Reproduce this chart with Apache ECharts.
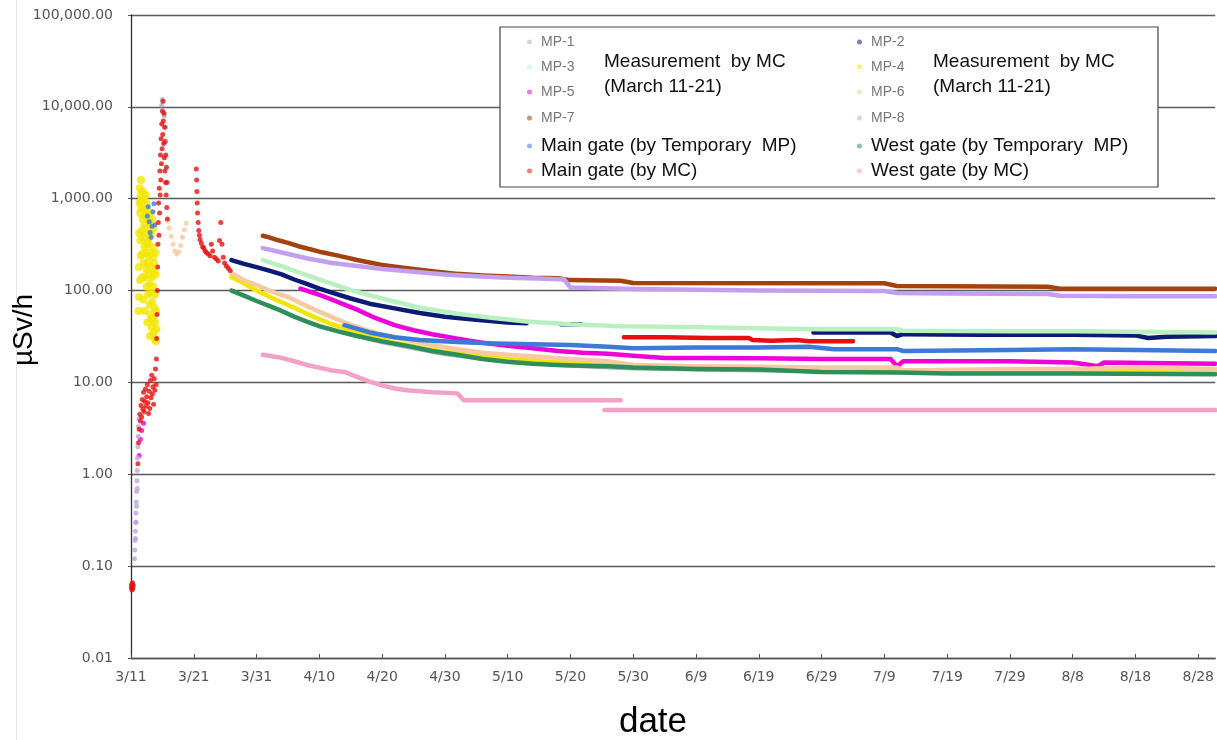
<!DOCTYPE html>
<html><head><meta charset="utf-8">
<script src="https://cdn.jsdelivr.net/npm/echarts@6/dist/echarts.min.js"></script>
<style>html,body{margin:0;padding:0;background:#fff}#c{width:1217px;height:740px}</style>
</head><body><div id="c"></div>
<script>
// x values are days after 3/11 (2011); y values in µSv/h
const seriesNames = ['MP-1','MP-2','MP-3','MP-4','MP-5','MP-6','MP-7','MP-8',
  'Main gate (by Temporary  MP)','West gate (by Temporary  MP)','Main gate (by MC)','West gate (by MC)'];
const seriesColors = ['#a9b2c0','#0b1a73','#b9f0c0','#f2e600','#f000d8','#f6c9a0','#a3420f','#c3a0ee',
  '#3d7ad6','#2f8f5a','#e41010','#f4a0c8'];

// ---- early measurements by MC (March 11-21) ----
const mp1Early = [[0.7,0.2],[0.8,0.3],[0.9,0.45],[1.0,0.7],[4.9,10500],[5.0,12000],[5.3,8000],[5.5,6000]];
const mp4Early = [[1.2,60],[1.25,180],[1.3,420],[1.35,900],[1.4,1300],[1.45,700],[1.5,350],[1.55,1100],[1.6,1600],[1.65,800],
  [1.7,450],[1.75,250],[1.8,950],[1.85,600],[1.9,1200],[1.95,380],[2.0,200],[2.05,750],[2.1,520],[2.15,300],[2.2,140],
  [2.25,650],[2.3,420],[2.35,260],[2.4,900],[2.45,170],[2.5,110],[2.55,480],[2.6,320],[2.65,200],[2.7,90],[2.75,600],
  [2.8,240],[2.85,150],[2.9,380],[2.95,70],[3.0,120],[3.05,260],[3.1,55],[3.15,180],[3.2,95],[3.25,420],[3.3,40],
  [3.35,140],[3.4,75],[3.45,300],[3.5,50],[3.55,110],[3.6,35],[3.65,200],[3.7,65],[3.75,30],[3.8,90],[3.85,45],
  [3.9,150],[3.95,28],[4.0,60],[4.05,38],
  [1.3,85],[1.45,130],[1.55,240],[1.7,1000],[1.8,140],[1.95,80],[2.1,1000],[2.2,60],[2.35,1100],[2.5,760],
  [2.6,45],[2.7,340],[2.85,560],[3.0,32],[3.1,700],[3.2,48],[3.35,600],[3.5,230],[3.6,480],[3.75,160],[3.9,260]];
const mp5Early = [[1.3,1.6],[1.5,2.4],[1.7,3.0],[2.0,3.6]];
const mp6Early = [[5.8,580],[6.1,480],[6.4,390],[6.7,320],[7.0,270],[7.3,250],[7.6,265],[7.9,310],[8.2,380],[8.5,460],[8.8,540]];
const mp8Early = [[0.55,0.12],[0.6,0.15],[0.65,0.19],[0.7,0.24],[0.75,0.3],[0.8,0.38],[0.85,0.5],[0.9,0.65],[0.95,0.85],
  [1.0,1.1],[1.05,1.5],[1.1,2.0],[1.15,2.6],[1.2,3.3],[1.25,4.0]];
const mainTmpEarly = [[2.6,650],[2.75,820],[2.9,560],[3.05,430],[3.2,380],[3.35,500],[3.5,720],[3.65,880],[3.8,520]];
const mainMcEarly = [[0.05,0.058],[0.1,0.063],[0.15,0.055],[0.2,0.06],[0.25,0.066],[0.3,0.057],[0.35,0.062],
  [1.1,1.3],[1.2,2.2],[1.3,3.1],[1.4,4.5],[1.5,3.8],[1.6,5.6],[1.7,4.2],[1.8,6.5],[1.9,5.1],[2.0,7.8],[2.1,4.8],
  [2.2,6.2],[2.3,8.5],[2.4,5.5],[2.5,7.0],[2.6,9.5],[2.7,6.0],[2.8,4.6],[2.9,8.0],[3.0,5.2],[3.1,10.5],[3.2,6.8],
  [3.3,12],[3.4,7.5],[3.5,9.0],[3.6,5.8],[3.7,11],[3.8,8.2],[3.9,14],[4.0,9.5],[4.05,18],[4.1,30],[4.15,55],[4.2,100],
  [4.25,180],[4.3,320],[4.35,550],[4.4,900],[4.45,400],[4.5,1300],[4.55,700],[4.6,2000],[4.65,1100],[4.7,3000],
  [4.75,1600],[4.8,4500],[4.85,2400],[4.9,6500],[4.95,3500],[5.0,9000],[5.05,5000],[5.1,11500],[5.15,7000],[5.2,4000],
  [5.25,8500],[5.3,2800],[5.35,6000],[5.4,2000],[5.45,4200],[5.5,1500],[5.55,3000],[5.6,1100],[5.65,2200],[5.7,800],
  [5.75,1500],[5.8,600],
  [10.4,2100],[10.45,1600],[10.5,1200],[10.55,900],[10.6,700],[10.7,550],[10.8,450],[10.9,400],[11.0,360],[11.2,330],
  [11.4,300],[11.6,290],[11.8,270],[12.0,260],[12.3,250],[12.6,240],[12.8,320],[13.0,270],[13.3,230],[13.6,220],
  [13.9,210],[14.1,350],[14.3,550],[14.5,320],[14.7,230],[14.9,200],[15.2,185],[15.5,175],[15.8,165]];

// ---- continuous monitoring (lines) ----
const mp1Line = [[30,40],[40,27],[50,20],[60,16.5],[70,15],[80,14],[100,13.3],[122,13],[172.7,12.8]];
const mp2Line = [[16,215],[18,195],[20,180],[22,165],[24,150],[26,132],[28,118],[30,105],[32,95],[35,82],[38,72],
  [42,64],[46,57],[50,52],[55,48],[60,45],[63,44],[63,null],[68.5,43],[71.7,43],[71.7,null],
  [108.7,35],[115,35],[121,35],[122,32],[123,33.5],[135,33],[150,33],[160,32.5],[162,30.5],[165,31.5],[172.7,32]];
const mp3Line = [[21,215],[24,185],[27,155],[31,125],[35,101],[40,82],[46,65],[52,56],[57,51],[63,46],[70,43],
  [78,41],[90,40],[100,39],[110,38],[122,38],[123,36.5],[140,36],[150,36],[172.7,35]];
const mp4Line = [[16,140],[18,120],[20,100],[23,80],[26,65],[29,52],[32,43],[35,37],[38,32],[42,27],[46,24],
  [50,21.5],[55,19.5],[60,18],[65,17],[70,16.3],[75,15.5],[80,15],[90,14.5],[100,14],[110,13.8],[122,13.5],
  [140,13.5],[160,13],[172.7,13]];
const mp5Line = [[27,105],[30,90],[33,75],[36,62],[39,50],[42,42],[45,37],[48,33.5],[52,30],[56,27],[60,25],
  [64,23.5],[68,22],[72,21],[76,20.5],[80,19.5],[85,18.5],[90,18.5],[100,18.3],[110,18],[121,18],[122,15],
  [123,17],[140,17],[150,16.5],[154,15],[155,16.5],[172.7,16]];
const mp6Line = [[16,155],[18,130],[20,115],[22,100],[25,85],[28,68],[31,55],[34,45],[37,38],[40,33],[44,29],
  [48,25.5],[52,23],[56,21],[60,20],[65,19],[70,18],[76,17],[80,15.5],[90,15],[100,14.8],[110,14.5],[122,14.5],
  [123,13.5],[140,14],[150,14],[160,14.5],[172.7,14]];
const mp7Line = [[21,395],[22,380],[23,360],[25,330],[27,300],[30,265],[33,240],[36,215],[40,190],[44,175],
  [48,162],[52,152],[56,146],[60,142],[64,138],[68,136],[70,130],[78,128],[80,121],[120,120],[122,112],
  [146,110],[148,105],[172.7,105]];
const mp8Line = [[21,290],[23,270],[25,250],[28,225],[32,200],[36,185],[40,172],[45,160],[50,150],[55,143],
  [60,138],[65,135],[69,132],[70,108],[75,106],[80,104],[90,102],[100,100],[120,99],[122,94],[130,93],
  [146,92],[148,88],[160,87],[172.7,87]];
const mainTmpLine = [[34,42],[38,35],[42,31],[46,29],[52,27.5],[58,26.5],[64,26],[70,25.5],[76,24.5],[80,23.5],
  [90,24],[100,24],[108,24.5],[112,23],[122,23],[123,22],[140,22.5],[150,23],[160,22.5],[172.7,22]];
const westTmpLine = [[16,100],[18,88],[20,77],[22,68],[24,60],[26,52],[28,46],[30,41],[33,36],[36,32],[40,28],
  [44,25],[48,22],[52,20],[56,18],[60,16.8],[64,16],[68,15.5],[72,15.2],[76,15],[80,14.5],[90,14],[100,13.8],
  [110,13],[122,12.8],[130,12.5],[150,12.5],[172.7,12.3]];
const mainMcLine = [[78.5,31],[85,31],[92,30.5],[98.4,30.5],[99,29],[102,28.5],[106,29],[108,28],[115,28]];
const westMcLine = [[21,20],[22,19.5],[24,18.5],[26,17],[28,15.5],[30,14.5],[32,13.5],[34,13],[36,11.5],[38,10.2],
  [40,9.3],[42,8.6],[44,8.2],[46,8],[48,7.8],[52,7.6],[53,6.4],[60,6.4],[70,6.4],[78,6.4],[78,null],
  [75.4,5.0],[100,5.0],[140,5.0],[172.7,5.0]];

const lineSets = [mp1Line, mp2Line, mp3Line, mp4Line, mp5Line, mp6Line, mp7Line, mp8Line,
  mainTmpLine, westTmpLine, mainMcLine, westMcLine];
const earlySets = [mp1Early, null, null, mp4Early, mp5Early, mp6Early, null, mp8Early,
  mainTmpEarly, null, mainMcEarly, null];

// legend layout (one legend per entry)
const legendLeft = [527, 857, 527, 857, 527, 857, 527, 857, 527, 857, 527, 857];
const legendCenterY = [42, 42, 67, 67, 92, 92, 118, 118, 146, 146, 171, 171];

function dayLabel(v) {
  const d = new Date(2011, 2, 11 + Math.round(v));
  return (d.getMonth() + 1) + '/' + d.getDate();
}

const series = [];
seriesNames.forEach((n, i) => {
  series.push({
    type: 'line', name: n, data: lineSets[i], showSymbol: false, connectNulls: false,
    lineStyle: { width: i === 0 ? 3 : 4.5, color: seriesColors[i], cap: 'round', join: 'round' },
    itemStyle: { color: seriesColors[i] }, z: 2, silent: true
  });
  if (earlySets[i]) {
    series.push({
      type: 'scatter', name: n, data: earlySets[i], symbol: 'circle',
      symbolSize: i === 3 ? 8 : 5, itemStyle: { color: seriesColors[i] }, z: 2, silent: true
    });
  }
});

const legends = seriesNames.map((n, i) => {
  const isMP = n.indexOf('MP-') === 0;
  return {
    data: [{ name: n, textStyle: isMP
      ? { fontSize: 14, color: '#777', fontFamily: 'Liberation Sans', lineHeight: 20, padding: [0, 0, 0, 4] }
      : { fontSize: 19, color: '#111', fontFamily: 'Liberation Sans', lineHeight: 20, padding: [0, 0, 0, 4] } }],
    left: legendLeft[i], top: legendCenterY[i] - 10, orient: 'vertical', padding: 0,
    icon: 'circle', itemWidth: 5, itemHeight: 5, itemStyle: { opacity: 0.55 },
    selectedMode: false, z: 6
  };
});

const chart = echarts.init(document.getElementById('c'), null, { renderer: 'canvas' });
chart.setOption({
  animation: false,
  backgroundColor: '#fff',
  grid: { left: 131, right: 0, top: 15, bottom: 82, containLabel: false },
  xAxis: {
    type: 'value', min: 0, max: 172.7, interval: 10,
    axisLine: { show: true, lineStyle: { color: '#555', width: 1.3 } },
    axisTick: { show: true, inside: true, length: 4, lineStyle: { color: '#555' } },
    axisLabel: { formatter: dayLabel, showMaxLabel: false, color: '#555', fontSize: 14,
      fontFamily: 'DejaVu Sans', margin: 12 },
    splitLine: { show: false }
  },
  yAxis: {
    type: 'log', logBase: 10, min: 0.01, max: 100000,
    axisLine: { show: true, lineStyle: { color: '#333', width: 1.3 } },
    axisTick: { show: true, inside: false, length: 3, lineStyle: { color: '#555' } },
    axisLabel: {
      formatter: v => Number(v).toLocaleString('en-US', { minimumFractionDigits: 2, maximumFractionDigits: 2 }),
      color: '#555', fontSize: 14, fontFamily: 'DejaVu Sans', margin: 18
    },
    splitLine: { show: true, lineStyle: { color: '#5a5a5a', width: 1.3 } },
    minorTick: { show: false }
  },
  legend: legends,
  graphic: [
    { type: 'line', shape: { x1: 16.5, y1: 0, x2: 16.5, y2: 740 }, style: { stroke: '#e4e4e4', lineWidth: 1 }, z: 1, silent: true },
    { type: 'rect', shape: { x: 500, y: 27, width: 658, height: 160 },
      style: { fill: '#fff', stroke: '#444', lineWidth: 1.2 }, z: 3, silent: true },
    { type: 'text', x: 604, y: 62, style: { text: 'Measurement  by MC', font: '19px "Liberation Sans"', fill: '#111', verticalAlign: 'middle' }, z: 10 },
    { type: 'text', x: 604, y: 87, style: { text: '(March 11-21)', font: '19px "Liberation Sans"', fill: '#111', verticalAlign: 'middle' }, z: 10 },
    { type: 'text', x: 933, y: 62, style: { text: 'Measurement  by MC', font: '19px "Liberation Sans"', fill: '#111', verticalAlign: 'middle' }, z: 10 },
    { type: 'text', x: 933, y: 87, style: { text: '(March 11-21)', font: '19px "Liberation Sans"', fill: '#111', verticalAlign: 'middle' }, z: 10 },
    { type: 'text', x: 24, y: 330, rotation: Math.PI / 2,
      style: { text: 'µSv/h', font: '28px "Liberation Sans"', fill: '#000', align: 'center', verticalAlign: 'middle' }, z: 10 },
    { type: 'text', x: 653, y: 722,
      style: { text: 'date', font: '35px "Liberation Sans"', fill: '#000', align: 'center', verticalAlign: 'middle' }, z: 10 }
  ],
  series: series
});
</script>
</body></html>
